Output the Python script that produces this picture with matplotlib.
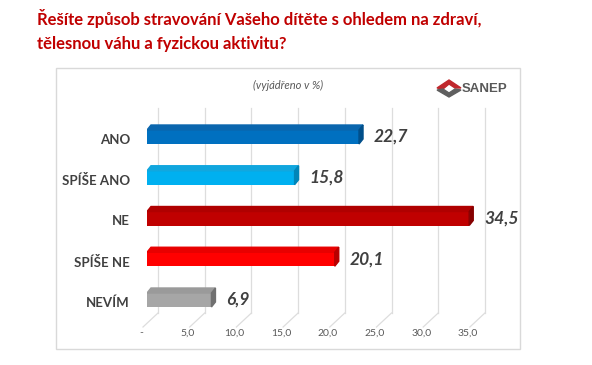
import matplotlib
matplotlib.use("Agg")
import matplotlib.pyplot as plt
from matplotlib.patches import Polygon, Rectangle
from matplotlib.transforms import Affine2D

# data
categories = ["ANO", "SPÍŠE ANO", "NE", "SPÍŠE NE", "NEVÍM"]
values = [22.7, 15.8, 34.5, 20.1, 6.9]
value_labels = ["22,7", "15,8", "34,5", "20,1", "6,9"]
tick_values = [0, 5, 10, 15, 20, 25, 30, 35]
tick_labels = ["-", "5,0", "10,0", "15,0", "20,0", "25,0", "30,0", "35,0"]

front_colors = ["#0070C0", "#00B0F0", "#C00000", "#FF0000", "#A6A6A6"]
top_colors = ["#0A66AE", "#10A6DE", "#B00000", "#E80000", "#9A9A9A"]
side_colors = ["#004F8A", "#0085B8", "#860000", "#B80000", "#707070"]

W, H = 592, 365
plt.rcParams['font.family'] = ['Lato', 'DejaVu Sans']

fig = plt.figure(figsize=(W / 100, H / 100), dpi=100)
fig.patch.set_facecolor("white")
# pixel coordinates, origin top-left
px = Affine2D().scale(1 / W, -1 / H).translate(0, 1) + fig.transFigure

# title
title_red = "#C00000"
fig.text(37, 25, "Řešíte způsob stravování Vašeho dítěte s ohledem na zdraví,",
         transform=px, color=title_red, fontsize=12, fontweight="bold", va="baseline")
fig.text(37, 49, "tělesnou váhu a fyzickou aktivitu?",
         transform=px, color=title_red, fontsize=12, fontweight="bold", va="baseline")

# chart frame
fig.patches.append(Rectangle((56, 68), 464, 281, transform=px, fill=False,
                             edgecolor="#D9D9D9", lw=1))
fig.text(288, 85, "(vyjádřeno v %)", transform=px, color="#595959",
         fontsize=8, style="italic", ha="center", va="center")

# SANEP logo
fig.patches.append(Polygon([(437, 88), (449, 80), (461, 88), (455, 88), (449, 84), (443, 89)],
                           closed=True, transform=px, color="#C0282D"))
fig.patches.append(Polygon([(437, 90), (443, 89), (449, 93), (455, 89), (461, 90), (449, 97)],
                           closed=True, transform=px, color="#5F5F5F"))
fig.text(462, 89, "SANEP", transform=px, color="#595959", fontsize=9.5,
         fontweight="bold", family=["Liberation Sans", "DejaVu Sans"], va="center")

# plot area: x in percent, y in category index
x0_px, unit_px = 147, 9.34
y0_px, step_px = 137, 40.75
top_px, bot_px = 108, 327
ax = fig.add_axes([x0_px / W, 1 - bot_px / H, 35 * unit_px / W, (bot_px - top_px) / H])
ax.set_xlim(0, 35)
ax.set_ylim((bot_px - y0_px) / step_px, (top_px - y0_px) / step_px)
ax.axis("off")

def to_x(p):
    return (p - x0_px) / unit_px

def to_y(p):
    return (p - y0_px) / step_px

# back wall gridlines and floor
back_dx = to_x(158)
front_dx = to_x(143)
wall_bottom = to_y(313)
floor_front = to_y(327)
for t in tick_values:
    ax.plot([t + back_dx, t + back_dx], [wall_bottom, to_y(top_px)], color="#DDDDDD",
            lw=0.9, zorder=1, clip_on=False)
    ax.plot([t + front_dx, t + back_dx], [floor_front, wall_bottom], color="#DDDDDD",
            lw=0.9, zorder=1, clip_on=False)
for t, lab in zip(tick_values, tick_labels):
    ax.text(t + to_x(141), to_y(333), lab, color="#595959", fontsize=7.5,
            ha="center", va="center", clip_on=False)

# 3D-looking bars
h = 14 / step_px
dx = 4 / unit_px
dy = 5 / step_px
for i, v in enumerate(values):
    ax.barh(i, v, height=h, color=front_colors[i], zorder=3)
    ax.add_patch(Polygon([(0, i - h / 2), (v, i - h / 2), (v + dx, i - h / 2 - dy),
                          (dx, i - h / 2 - dy)], closed=True, color=top_colors[i], zorder=3))
    ax.add_patch(Polygon([(v, i - h / 2), (v + dx, i - h / 2 - dy), (v + dx, i + h / 2 - dy),
                          (v, i + h / 2)], closed=True, color=side_colors[i], zorder=3))
    ax.text(v + 1.6, i, value_labels[i], color="#404040", fontsize=12.5,
            fontweight="bold", style="italic", ha="left", va="center", clip_on=False)
    ax.text(to_x(130), i + 0.07, categories[i], color="#404040", fontsize=9.5,
            fontweight="bold", ha="right", va="center", clip_on=False)

fig.savefig("out.png", dpi=100, facecolor="white")
